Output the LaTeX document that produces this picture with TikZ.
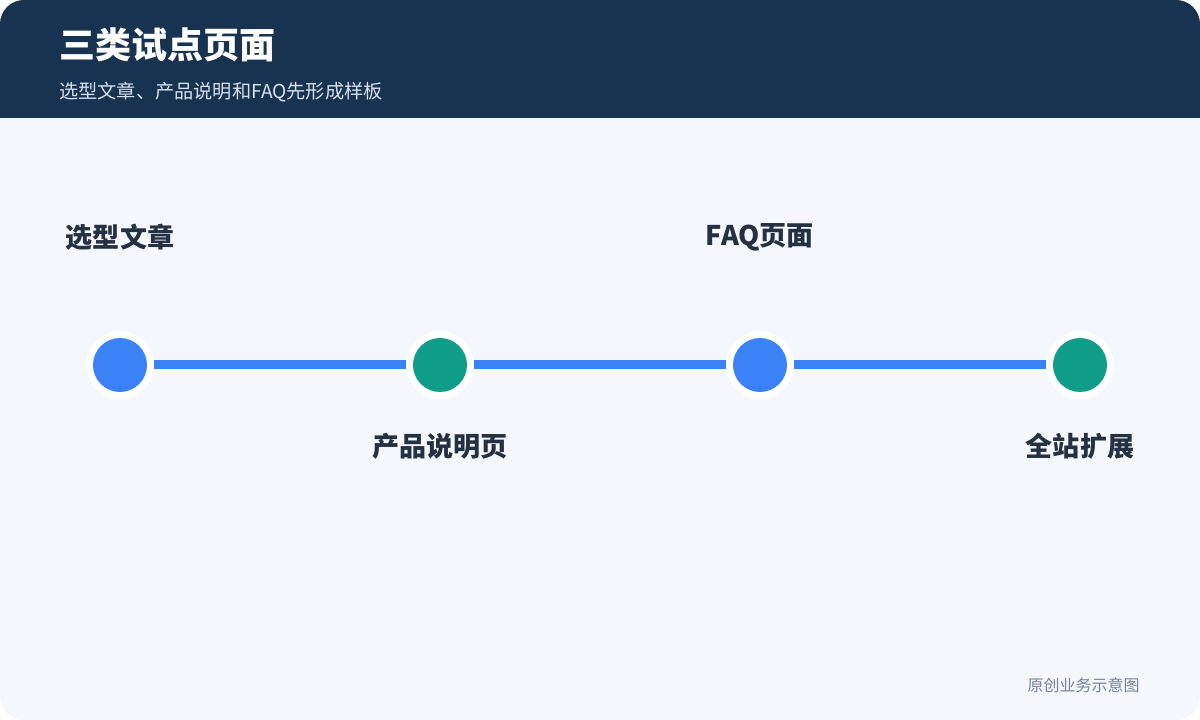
\documentclass[tikz,border=0pt]{standalone}
\usepackage{fontspec}
\setmainfont{Noto Sans CJK SC}
\definecolor{hdr}{HTML}{18334F}
\definecolor{bgc}{HTML}{F4F8FD}
\definecolor{nblue}{HTML}{3B82F6}
\definecolor{ngreen}{HTML}{0F9D8A}
\definecolor{lbl}{HTML}{243142}
\definecolor{subc}{HTML}{D5E1EF}
\definecolor{foot}{HTML}{76839A}
\tikzset{
  px/.style={x=0.75pt,y=-0.75pt},
  ring/.style={circle,fill=white,minimum size=51pt,inner sep=0pt},
  dotblue/.style={circle,fill=nblue,minimum size=40.5pt,inner sep=0pt},
  dotgreen/.style={circle,fill=ngreen,minimum size=40.5pt,inner sep=0pt},
  link/.style={draw=nblue,line width=6.75pt},
  lab/.style={text=lbl,font=\fontsize{20.3pt}{23pt}\selectfont\bfseries,inner sep=0pt,anchor=center}
}
\begin{document}
\begin{tikzpicture}[px]
\useasboundingbox (0,0) rectangle (1200,720);
\fill[white] (0,0) rectangle (1200,720);
\fill[bgc,rounded corners=18pt] (0,0) rectangle (1200,720);
\fill[hdr,rounded corners=18pt] (0,118) -- (0,0) -- (1200,0) -- (1200,118) [sharp corners] -- cycle;
\fill[hdr] (0,60) rectangle (1200,118);
\node[anchor=west,text=white,font=\fontsize{27pt}{30pt}\selectfont\bfseries,inner sep=0pt] (title) at (59,45) {三类试点页面};
\node[anchor=west,text=subc,font=\fontsize{14.4pt}{17pt}\selectfont,inner sep=0pt] (sub) at (59,92) {选型文章、产品说明和FAQ先形成样板};
% rings
\node[ring] (r1) at (120,365) {};
\node[ring] (r2) at (440,365) {};
\node[ring] (r3) at (760,365) {};
\node[ring] (r4) at (1080,365) {};
\draw[link] (r1.east) -- (r2.west);
\draw[link] (r2.east) -- (r3.west);
\draw[link] (r3.east) -- (r4.west);
\node[dotblue] (n1) at (r1) {};
\node[dotgreen] (n2) at (r2) {};
\node[dotblue] (n3) at (r3) {};
\node[dotgreen] (n4) at (r4) {};
\node[lab] (l1) at (120,237) {选型文章};
\node[lab] (l2) at (440,446) {产品说明页};
\node[lab] (l3) at (760,237) {FAQ页面};
\node[lab] (l4) at (1080,446) {全站扩展};
\node[anchor=east,text=foot,font=\fontsize{12pt}{14pt}\selectfont,inner sep=0pt] (ft) at (1140,685) {原创业务示意图};
\end{tikzpicture}
\end{document}
